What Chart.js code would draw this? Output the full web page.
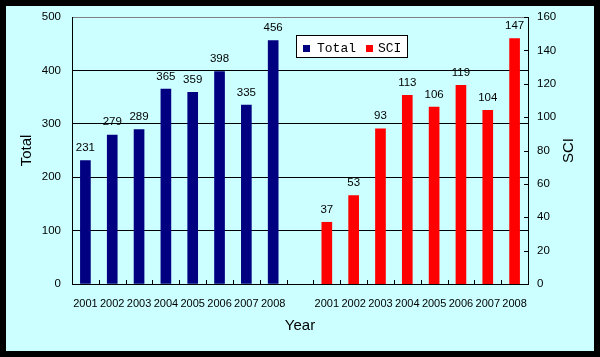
<!DOCTYPE html>
<html>
<head>
<meta charset="utf-8">
<script src="https://cdn.jsdelivr.net/npm/chart.js@4/dist/chart.umd.min.js"></script>
<style>
  html, body { margin: 0; padding: 0; background: #000; }
  #wrap { position: absolute; left: 6px; top: 6px; width: 588px; height: 345px; background: #CCFFFF; }
  canvas { display: block; }
</style>
</head>
<body>
<div id="wrap"><canvas id="c" width="588" height="345"></canvas></div>
<script>
// ---- data ----
const years = ['2001', '2002', '2003', '2004', '2005', '2006', '2007', '2008'];
const totalValues = [231, 279, 289, 365, 359, 398, 335, 456];
const sciValues = [37, 53, 93, 113, 106, 119, 104, 147];
const totalTicks = [0, 100, 200, 300, 400, 500];
const sciTicks = [0, 20, 40, 60, 80, 100, 120, 140, 160];

// combined category axis: Total group, one blank gap, SCI group
const labels = years.concat([''], years);
const gapNulls = new Array(years.length + 1).fill(null);
const totalData = totalValues.concat(gapNulls);
const sciData = gapNulls.concat(sciValues);

const NAVY = '#000080';
const RED = '#FF0000';
const TICK_FONT = { family: 'Liberation Sans', size: 11.5 };
const XTICK_FONT = { family: 'Liberation Sans', size: 11 };
const TITLE_FONT = { family: 'Liberation Sans', size: 15 };

const bgPlugin = {
  id: 'bg',
  beforeDraw(chart) {
    const ctx = chart.ctx;
    ctx.save();
    ctx.fillStyle = '#CCFFFF';
    ctx.fillRect(0, 0, chart.width, chart.height);
    ctx.restore();
  }
};

const extrasPlugin = {
  id: 'extras',
  afterDraw(chart) {
    const ctx = chart.ctx;
    const area = chart.chartArea;
    const xs = chart.scales.x;
    const y1 = chart.scales.y1;
    ctx.save();
    // inward tick marks on x axis (category boundaries)
    ctx.strokeStyle = '#000';
    ctx.lineWidth = 1;
    const n = labels.length;
    const step = (xs.getPixelForValue(1) - xs.getPixelForValue(0));
    ctx.beginPath();
    for (let i = 0; i <= n; i++) {
      const x = Math.round(xs.getPixelForValue(0) - step / 2 + i * step) + 0.5;
      ctx.moveTo(x, area.bottom);
      ctx.lineTo(x, area.bottom - 4);
    }
    // inward tick marks on right axis
    sciTicks.forEach(v => {
      const y = Math.round(y1.getPixelForValue(v)) + 0.5;
      ctx.moveTo(area.right, y);
      ctx.lineTo(area.right - 4, y);
    });
    ctx.stroke();

    // data labels
    ctx.fillStyle = '#000';
    ctx.font = '11.5px "Liberation Sans"';
    ctx.textAlign = 'center';
    ctx.textBaseline = 'bottom';
    chart.data.datasets.forEach((ds, di) => {
      const meta = chart.getDatasetMeta(di);
      meta.data.forEach((el, i) => {
        const v = ds.data[i];
        if (v === null || v === undefined) return;
        ctx.fillText(String(v), el.x, el.y - 7);
      });
    });

    // right axis title (reads bottom-to-top)
    ctx.save();
    ctx.font = '15px "Liberation Sans"';
    ctx.textAlign = 'center';
    ctx.textBaseline = 'middle';
    ctx.translate(563, (area.top + area.bottom) / 2);
    ctx.rotate(-Math.PI / 2);
    ctx.fillText('SCI', 0, 0);
    ctx.restore();

    // legend box
    const lx = 290, ly = 29, lw = 112, lh = 23;
    ctx.fillStyle = '#FFFFFF';
    ctx.fillRect(lx, ly, lw, lh);
    ctx.strokeStyle = '#000';
    ctx.strokeRect(lx + 0.5, ly + 0.5, lw - 1, lh - 1);
    ctx.font = '13px "Liberation Mono"';
    ctx.textAlign = 'left';
    ctx.textBaseline = 'middle';
    const items = [
      { text: chart.data.datasets[0].label, color: NAVY, sx: 297, tx: 311 },
      { text: chart.data.datasets[1].label, color: RED, sx: 360, tx: 372 }
    ];
    items.forEach(it => {
      ctx.fillStyle = it.color;
      ctx.fillRect(it.sx, ly + 10, 7, 7);
      ctx.fillStyle = '#000';
      ctx.fillText(it.text, it.tx, ly + 14);
    });
    ctx.restore();
  }
};

new Chart(document.getElementById('c'), {
  type: 'bar',
  data: {
    labels: labels,
    datasets: [
      { label: 'Total', data: totalData, backgroundColor: NAVY, yAxisID: 'y', barThickness: 10, grouped: false },
      { label: 'SCI', data: sciData, backgroundColor: RED, yAxisID: 'y1', barThickness: 10, grouped: false }
    ]
  },
  options: {
    responsive: false,
    animation: false,
    layout: { padding: { top: 11, left: 0, right: 0, bottom: 0 } },
    plugins: { legend: { display: false }, tooltip: { enabled: false } },
    scales: {
      x: {
        offset: true,
        grid: { display: false, drawTicks: false },
        border: { display: true, color: '#000', width: 1 },
        ticks: { color: '#000', font: XTICK_FONT, autoSkip: false, maxRotation: 0, minRotation: 0, padding: 13 },
        title: { display: true, text: 'Year', color: '#000', font: TITLE_FONT, padding: { top: 0, bottom: 16 } },
        afterFit(s) { s.height = 67; s.paddingLeft = 0; s.paddingRight = 0; }
      },
      y: {
        position: 'left',
        min: 0, max: 500,
        afterBuildTicks(s) { s.ticks = totalTicks.map(v => ({ value: v })); },
        grid: {
          drawTicks: false,
          color: ctx => (ctx.tick && ctx.tick.value === 500 ? '#808080' : '#000'),
          lineWidth: 1
        },
        border: { display: true, color: '#000', width: 1 },
        ticks: { color: '#000', font: TICK_FONT, padding: 11 },
        title: { display: true, text: 'Total', color: '#000', font: TITLE_FONT, padding: { top: 12, bottom: 0 } },
        afterFit(s) { s.width = 66; s.paddingTop = 0; s.paddingBottom = 0; }
      },
      y1: {
        position: 'right',
        min: 0, max: 160,
        afterBuildTicks(s) { s.ticks = sciTicks.map(v => ({ value: v })); },
        grid: { display: false, drawTicks: false },
        border: { display: true, color: '#000', width: 1 },
        ticks: { color: '#000', font: TICK_FONT, padding: 9 },
        title: { display: false },
        afterFit(s) { s.width = 66; s.paddingTop = 0; s.paddingBottom = 0; }
      }
    }
  },
  plugins: [bgPlugin, extrasPlugin]
});
</script>
</body>
</html>
